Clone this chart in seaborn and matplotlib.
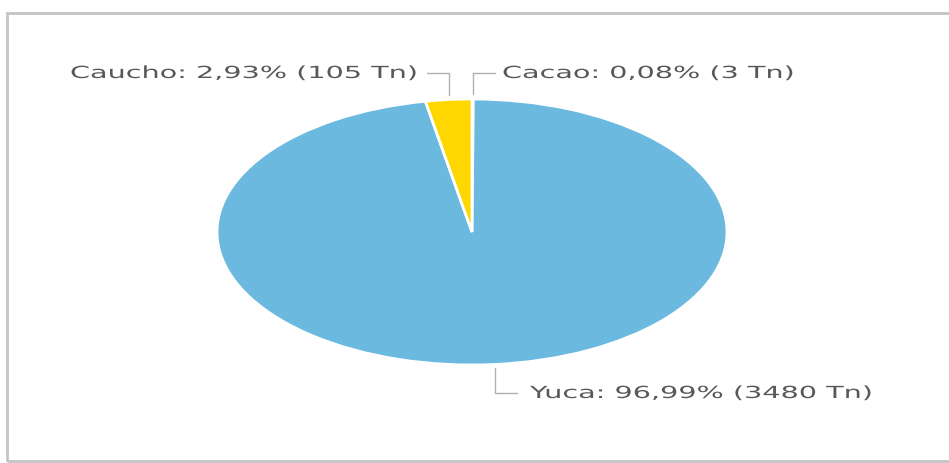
import numpy as np
import seaborn as sns
import matplotlib.pyplot as plt
from matplotlib.patches import Rectangle
from matplotlib.patheffects import AbstractPathEffect
from matplotlib.transforms import Affine2D

# data, clockwise from 12 o'clock
crops = ['Cacao', 'Yuca', 'Caucho']
tons = [3, 3480, 105]
colors = ['#e8e8e8', '#6bb9df', '#ffd700']


class StretchX(AbstractPathEffect):
    # the reference is drawn wide, so the labels are widened too
    def __init__(self, sx):
        super().__init__()
        self.sx = sx

    def draw_path(self, renderer, gc, tpath, affine, rgbFace=None):
        renderer.draw_path(gc, tpath, Affine2D().scale(self.sx, 1) + affine, rgbFace)


sns.set_theme(style='white')
plt.rcParams['font.family'] = ['DejaVu Sans']

W, H = 949, 463
fig = plt.figure(figsize=(W / 100, H / 100), dpi=100)
fig.patch.set_facecolor('white')

# outer panel frame
fig.patches.append(Rectangle((7, 2), 960, 448, transform=None, fill=False,
                             edgecolor='#c4c4c4', linewidth=2))

# pie area (ellipse, wider than tall)
cx, cy, rx, ry = 472, 232, 255, 133
ax = fig.add_axes([(cx - rx) / W, (H - cy - ry) / H, 2 * rx / W, 2 * ry / H])
wedges, _ = ax.pie(tons, colors=colors, startangle=90, counterclock=False,
                   radius=1, wedgeprops=dict(edgecolor='white', linewidth=2))
ax.set_aspect('auto')
ax.set_xlim(-1, 1)
ax.set_ylim(-1, 1)
ax.axis('off')

total = sum(tons)
stretch = [StretchX(1.72)]
txt_kw = dict(fontsize=12, color='#585858', va='center', ha='left',
              path_effects=stretch)
line_kw = dict(color='#b0b0b0', linewidth=1)

# label positions in figure pixels (from top), left edge of text
label_pos = {'Cacao': (502, 73, 1), 'Caucho': (70, 73, -1), 'Yuca': (530, 393, 1)}

for w, name, t in zip(wedges, crops, tons):
    mid = np.deg2rad((w.theta1 + w.theta2) / 2)
    x0 = cx + rx * np.cos(mid)
    y0 = cy - ry * np.sin(mid)
    y0 += -5 if np.sin(mid) > 0 else 4
    tx, ty, side = label_pos[name]
    x_end = x0 + side * 22
    fig.add_artist(plt.Line2D([x0, x0, x_end], [H - y0, H - ty, H - ty],
                              transform=None, **line_kw))
    pct = f'{100 * t / total:.2f}'.replace('.', ',')
    fig.text(tx / W, 1 - ty / H, f'{name}: {pct}% ({t} Tn)', **txt_kw)

fig.savefig('out.png', dpi=100)
